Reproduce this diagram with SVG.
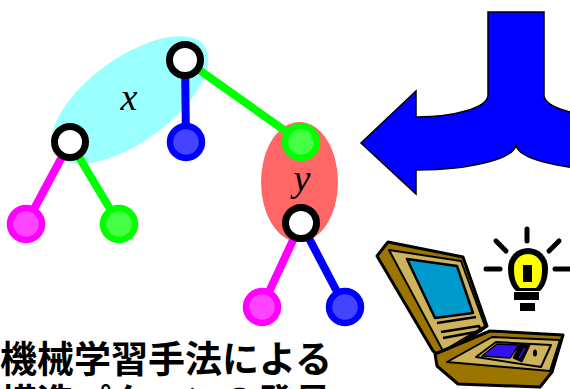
<svg xmlns="http://www.w3.org/2000/svg" width="570" height="389" viewBox="0 0 570 389">
<style>
.edge{stroke-width:8;fill:none}
.inner{fill:#fff;stroke:#000;stroke-width:7}
.lm{fill:#ff44ff;stroke:#ff00ff;stroke-width:6.5}
.lg{fill:#44ff44;stroke:#00ff00;stroke-width:6.5}
.lb{fill:#4444ff;stroke:#0000ff;stroke-width:6.5}
.lbl{font-family:"Liberation Serif","Times New Roman",serif;font-style:italic;font-size:38px;fill:#000}
.ttl{font-family:"Noto Sans CJK JP","Noto Sans CJK SC",sans-serif;font-weight:700;font-size:37px;fill:#000}
.ray{stroke:#000;stroke-width:5;stroke-linecap:round}
</style>
<rect width="570" height="389" fill="#fff"/>
<g id="group-x"><ellipse cx="130" cy="100" rx="92" ry="42" transform="rotate(-36 130 100)" fill="#99ffff"/></g>
<g id="group-y"><ellipse cx="299.5" cy="182" rx="38.5" ry="60" fill="#ff6666"/></g>
<g id="connectors">
<line class="edge" stroke="#0000ff" x1="185" y1="60" x2="186" y2="142"/>
<line class="edge" stroke="#00ff00" x1="185" y1="60" x2="301" y2="142"/>
<line class="edge" stroke="#ff00ff" x1="70" y1="142" x2="26" y2="224"/>
<line class="edge" stroke="#00ff00" x1="70" y1="142" x2="119" y2="224"/>
<line class="edge" stroke="#ff00ff" x1="301" y1="223" x2="262" y2="307"/>
<line class="edge" stroke="#0000ff" x1="301" y1="223" x2="345" y2="307"/>
</g>
<g id="node-root"><circle class="inner" cx="185" cy="60" r="15.5"/></g>
<g id="node-left"><circle class="inner" cx="70" cy="142" r="15.5"/></g>
<g id="node-blue1"><circle class="lb" cx="186" cy="142" r="16"/></g>
<g id="node-green1"><circle class="lg" cx="301" cy="142" r="16"/></g>
<g id="node-mag1"><circle class="lm" cx="26" cy="224" r="16"/></g>
<g id="node-green2"><circle class="lg" cx="119" cy="224" r="16"/></g>
<g id="node-yroot"><circle class="inner" cx="301" cy="223" r="15.5"/></g>
<g id="node-mag2"><circle class="lm" cx="262" cy="307" r="16"/></g>
<g id="node-blue2"><circle class="lb" cx="345" cy="307" r="16"/></g>
<g id="labels">
<text class="lbl" x="129" y="110" text-anchor="middle">x</text>
<text class="lbl" x="302" y="191" text-anchor="middle">y</text>
</g>
<g id="split-arrow">
<path d="M488 12 L544 12 L544 95 A71 22 0 0 0 615 117 L671 117 L671 91 L726 143 L671 194 L671 170 L615 170 A99 26 0 0 1 516 144 A99 26 0 0 1 417 170 L416 170 L416 194 L361 143 L416 91 L416 117 L417 117 A71 22 0 0 0 488 95 Z" fill="#0000ff" stroke="#000" stroke-width="1.5" stroke-linejoin="miter"/>
</g>
<g id="laptop" stroke="#000" stroke-linejoin="round">
<polygon points="377,256 388,242 463,257 487,326 441,357 433,351" fill="#9c7400" stroke-width="3"/>
<polygon points="389,250 461,261 485,326 443,351" fill="#ccb35c" stroke-width="2"/>
<polygon points="407,259 457,266 473,313 435,318" fill="#0099cc" stroke-width="2.5"/>
<polyline points="437,323 476,317" fill="none" stroke-width="2.5"/>
<polyline points="441,332 479,326 481,331 443,338" fill="none" stroke-width="2.5"/>
<polygon points="435,354 490,331 563,335 552,372 540,387 458,384 437,366" fill="#9c7400" stroke-width="3"/>
<polygon points="447,362 492,337 560,340 550,371" fill="#ccb35c" stroke-width="2"/>
<polygon points="476,357 496,342 551,345 541,367" fill="#ccb35c" stroke-width="2"/>
<polygon points="482,356 497,344 519,345 510,358" fill="#3311ee" stroke-width="1.5"/>
<polygon points="513,358 520,344 530,345 522,362" fill="#000" stroke-width="1"/>
<line x1="519" y1="358" x2="525" y2="348" stroke="#3311ee" stroke-width="1.5"/>
<ellipse cx="535" cy="353" rx="2" ry="3.5" fill="#000" stroke="none"/>
</g>
<g id="bulb">
<line class="ray" x1="527" y1="229" x2="527" y2="241"/>
<line class="ray" x1="496" y1="241" x2="506" y2="251"/>
<line class="ray" x1="559" y1="241" x2="549" y2="251"/>
<line class="ray" x1="486" y1="269" x2="500" y2="269"/>
<line class="ray" x1="555" y1="269" x2="572" y2="269"/>
<path d="M516 291 C510 285 508 277 508 268 A20 20 0 0 1 548 268 C548 277 546 285 540 291 Z" fill="#000"/>
<path d="M520 288 C515 283 514 276 514 268 A14 14 0 0 1 542 268 C542 276 541 283 536 288 Z" fill="#ffff00"/>
<rect x="523" y="265" width="9" height="17" fill="#000"/>
<rect x="514" y="292" width="25" height="8" fill="#000"/>
<rect x="520" y="303" width="15" height="8" fill="#000"/>
</g>
<g id="title">
<text class="ttl" x="0" y="373">機械学習手法による</text>
<text class="ttl" x="0" y="416">構造パターンの発見</text>
</g>
</svg>
